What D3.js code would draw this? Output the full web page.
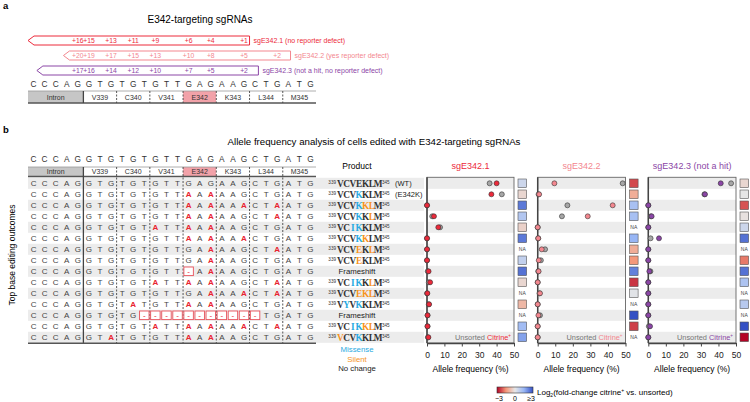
<!DOCTYPE html>
<html><head><meta charset="utf-8">
<script src="https://cdn.jsdelivr.net/npm/d3@7"></script>
<style>body{margin:0;background:#fff}svg{display:block;font-family:Arial,"Liberation Sans",sans-serif}</style>
</head><body><svg id="c" width="750" height="402"></svg>
<script>
// ---------------- data ----------------
const wtSeq = "CCCAG GTG TGT GTT GAG AAG CTG ATG";
const codons = ["Intron","V339","C340","V341","E342","K343","L344","M345"];
const guideNames = ["sgE342.1","sgE342.2","sgE342.3 (not a hit)"];
const guideLabels = ["sgE342.1 (no reporter defect)","sgE342.2 (yes reporter defect)","sgE342.3 (not a hit, no reporter defect)"];
const guideStart = [0, 3.2, 0.8];
const guideEnd = [20, 23.7, 20.8];
const guidePlusOne = [19, 23, 20];
const guideNumbers = [[16,15,13,11,9,6,4,1],[20,19,17,15,13,10,8,5,2],[17,16,14,12,10,7,5,2]];
const outcomes = [
"CCCAG GTG TGT GTT GAG AAG CTG ATG",
"CCCAG GTG TGT GTT AAA AAG CTG ATG",
"CCCAG GTG TGT GTT AAA AAA CTA ATG",
"CCCAG GTG TGT GTT AAA AAG CTA ATG",
"CCCAG GTG TGT ATT AAA AAG CTG ATG",
"CCCAG GTG TGT GTT AAA AAA CTG ATG",
"CCCAG GTG TGT GTT GAA AAG CTA ATG",
"CCCAG GTG TGT GTT GAA AAG CTG ATG",
"CCCAG GTG TGT GTT -AA AAG CTG ATG",
"CCCAG GTG TGT ATT AAA AAG CTA ATG",
"CCCAG GTG TGT GTT GAA AAA CTA ATG",
"CCCAG GTG TAT GTT AAA AAG CTG ATG",
"CCCAG GTG TG- --- --- --- -TG ATG",
"CCCAG GTG TGT ATT AAA AAA CTA ATG",
"CCCAG GTA TGT GTT AAA AAG CTG ATG"];
const products = ["VCVEKLM","VCVKKLM","VCVKKLM","VCVKKLM","VCIKKLM","VCVKKLM","VCVEKLM","VCVEKLM","Frameshift","VCIKKLM","VCVEKLM","VYVKKLM","Frameshift","VCIKKLM","VCVKKLM"];
const productChanges = ["-------","---m---","---mss-","---m-s-","--mm---","---ms--","---s-s-","---s---","","--mm-s-","---sss-","-m-m---","","--mmss-","s--m---"];
const productNotes = ["(WT)","(E342K)","","","","","","","","","","","","",""];
const unsorted1 = [36,43,0,3,7.5,0,0,0,0.4,1,0,1,0.3,0.3,0.5];
const citrine1  = [40,37,0,4,6.5,0,0,0,0.9,1.8,0.2,1.2,0.3,0.3,0.8];
const unsorted2 = [48.4,0.5,16.9,13.8,0,0.3,4.2,1.8,0.3,0,1,0,1.3,0,0];
const citrine2  = [9.5,0.8,42.7,28.5,0,0.3,2.3,0.6,0.5,0,1.3,0,0.4,0,0];
const unsorted3 = [47.2,32,0,1.5,0,1.3,0,0,1.2,0,0,0,0,0.3,0];
const citrine3  = [41.3,32.3,0,1.9,0,6.1,0,0,0.6,0,0,0,0,1,0];
const heat1 = [0.5,-0.3,2.4,1.0,-0.4,2.4,null,0.7,2.5,-0.3,null,-0.9,null,1.3,1.8];
const heat2 = [-2.3,-1.1,1.2,1.2,null,1.5,-1.1,-1.5,2.3,-2.5,0.1,null,3,-2.4,null];
const heat3 = [-0.3,0,-2.2,-0.1,0.5,2.5,null,-1.8,2.5,1.1,null,0.9,null,3,-3];
const xTicks = [0,10,20,30,40,50];
const colorbarTicks = ["\u22123","0","\u22653"];

// ---------------- drawing ----------------
const svg = d3.select("#c");
const guideColors = ["#ec2a3b","#f3878f","#8b46a6"];
const missenseC = "#29aae1", silentC = "#f7941d", editC = "#e8232f";
const heatColor = d3.scaleLinear().domain([-3,-1.5,0,1.5,3])
  .range(["#b40426","#f4987a","#e6e6e6","#98b6f5","#3450c4"]).clamp(true);

const wt = wtSeq.replace(/ /g,"");
const seqX = d3.scaleBand().domain(d3.range(wt.length)).range([28,316]);
const step = seqX.step();
const cx = i => seqX(i) + step/2;
const codonSpans = codons.map((c,k)=> k===0 ? [0,5] : [5+3*(k-1), 8+3*(k-1)]);

// panel labels
svg.append("text").attr("x",3).attr("y",9).attr("font-size",9.5).attr("font-weight","bold").text("a");
svg.append("text").attr("x",3).attr("y",133).attr("font-size",9.5).attr("font-weight","bold").text("b");
svg.append("text").attr("x",200).attr("y",23).attr("text-anchor","middle").attr("font-size",10).text("E342-targeting sgRNAs");

// guides
guideNames.forEach((g,gi)=>{
  const y0 = 36 + 15*gi, h = 9, col = guideColors[gi];
  const xl = seqX(0) + guideStart[gi]*step, xr = seqX(0) + guideEnd[gi]*step;
  svg.append("polygon").attr("points",[[xl,y0+h/2],[xl+6,y0],[xr,y0],[xr,y0+h],[xl+6,y0+h]].map(p=>p.join(",")).join(" "))
    .attr("fill","#fff").attr("stroke",col).attr("stroke-width",1);
  guideNumbers[gi].forEach(n=>{
    svg.append("text").attr("x",cx(guidePlusOne[gi]-(n-1))).attr("y",y0+7).attr("text-anchor","middle")
      .attr("font-size",6.8).attr("fill",col).text("+"+n);
  });
  svg.append("text").attr("x",xr+4).attr("y",y0+7).attr("font-size",7).attr("fill",col).text(guideLabels[gi]);
});

function drawHeader(ySeq, y0, y1, yBottom){
  wt.split("").forEach((ch,i)=>{
    svg.append("text").attr("x",cx(i)).attr("y",ySeq).attr("text-anchor","middle")
      .attr("font-size",8.3).attr("fill","#333").text(ch);
  });
  codons.forEach((c,k)=>{
    const [s,e] = codonSpans[k];
    const fill = k===0 ? "#c6c6c6" : (c==="E342" ? "#f2a2a9" : "#fff");
    svg.append("rect").attr("x",seqX(s)).attr("y",y0).attr("width",(e-s)*step).attr("height",y1-y0).attr("fill",fill);
    svg.append("text").attr("x",seqX(s)+(e-s)*step/2).attr("y",y1-2.8).attr("text-anchor","middle")
      .attr("font-size",7).attr("fill","#333").text(c);
  });
  svg.append("line").attr("x1",seqX(0)).attr("x2",seqX(0)+wt.length*step).attr("y1",y0).attr("y2",y0).attr("stroke","#999").attr("stroke-width",0.8);
  svg.append("line").attr("x1",seqX(0)).attr("x2",seqX(0)+wt.length*step).attr("y1",y1).attr("y2",y1).attr("stroke","#555").attr("stroke-width",1.4);
  codonSpans.slice(1).forEach(([s],k)=>{
    svg.append("line").attr("x1",seqX(s)).attr("x2",seqX(s)).attr("y1",y0).attr("y2",yBottom)
      .attr("stroke","#444").attr("stroke-width",k===0?1.3:0.9).attr("stroke-dasharray",k===0?null:"2,1.5");
  });
}
drawHeader(87, 91, 103, 103);

// panel b title
svg.append("text").attr("x",374).attr("y",145).attr("text-anchor","middle").attr("font-size",9.7).text("Allele frequency analysis of cells edited with E342-targeting sgRNAs");

const rowY = d3.scaleBand().domain(d3.range(outcomes.length)).range([177.8,342.8]);
const rh = rowY.step();
const rc = i => rowY(i) + rh/2;

// bands in table area
outcomes.forEach((o,i)=>{ if(i%2===0) svg.append("rect").attr("x",28).attr("y",rowY(i)).attr("width",396).attr("height",rh).attr("fill","#ececec"); });

drawHeader(161.5, 167, 176.5, 343);

// table rows
outcomes.forEach((o,r)=>{
  const s = o.replace(/ /g,"");
  s.split("").forEach((ch,i)=>{
    const y = rc(r);
    if(ch==="-"){
      svg.append("rect").attr("x",seqX(i)+0.8).attr("y",y-4.3).attr("width",step-1.6).attr("height",8.6)
        .attr("fill","#fff").attr("stroke","#e8505a").attr("stroke-width",0.9);
      svg.append("text").attr("x",cx(i)).attr("y",y+3).attr("text-anchor","middle").attr("font-size",8).attr("fill",editC).text("-");
    } else {
      const ed = ch !== wt[i];
      svg.append("text").attr("x",cx(i)).attr("y",y+3).attr("text-anchor","middle").attr("font-size",8)
        .attr("font-weight",ed?"bold":null).attr("fill",ed?editC:"#444").text(ch);
    }
  });
});
svg.append("line").attr("x1",28).attr("x2",316).attr("y1",343.3).attr("y2",343.3).attr("stroke","#555").attr("stroke-width",1.5);

// y label
svg.append("text").attr("transform","translate(15,255) rotate(-90)").attr("text-anchor","middle").attr("font-size",8.5).text("Top base editing outcomes");

// Products
svg.append("text").attr("x",357).attr("y",169).attr("text-anchor","middle").attr("font-size",8.5).text("Product");
products.forEach((p,r)=>{
  const y = rc(r)+3.3;
  if(p==="Frameshift"){
    svg.append("text").attr("x",357).attr("y",y-0.3).attr("text-anchor","middle").attr("font-size",7.8).attr("fill","#222").text(p);
    return;
  }
  svg.append("text").attr("x",336).attr("y",y-3).attr("text-anchor","end").attr("font-size",4.6).attr("fill","#333").text("339");
  p.split("").forEach((ch,k)=>{
    const m = productChanges[r][k];
    svg.append("text").attr("x",340.3+k*6.3).attr("y",y).attr("text-anchor","middle")
      .attr("font-family","'Liberation Serif','DejaVu Serif',serif").attr("font-weight","bold").attr("font-size",9.3)
      .attr("fill", m==="m"?missenseC:(m==="s"?silentC:"#333")).text(ch);
  });
  svg.append("text").attr("x",382).attr("y",y-3).attr("font-size",4.6).attr("fill","#333").text("345");
  if(productNotes[r]) svg.append("text").attr("x",395).attr("y",y-0.5).attr("font-size",7.5).attr("fill","#222").text(productNotes[r]);
});
svg.append("text").attr("x",357).attr("y",352).attr("text-anchor","middle").attr("font-size",7.8).attr("fill",missenseC).text("Missense");
svg.append("text").attr("x",357).attr("y",361.5).attr("text-anchor","middle").attr("font-size",7.8).attr("fill",silentC).text("Silent");
svg.append("text").attr("x",357).attr("y",371).attr("text-anchor","middle").attr("font-size",7.8).attr("fill","#222").text("No change");

// plots
const panels = [
  {range:[427,514], u:unsorted1, c:citrine1, h:heat1},
  {range:[537.7,625.5], u:unsorted2, c:citrine2, h:heat2},
  {range:[648.3,736], u:unsorted3, c:citrine3, h:heat3}
];
const plotTop = 177.3, plotBot = 343;
panels.forEach((P,pi)=>{
  const x = d3.scaleLinear().domain([0,50]).range(P.range);
  const col = guideColors[pi];
  const g = svg.append("g");
  outcomes.forEach((o,i)=>{ if(i%2===0) g.append("rect").attr("x",x(0)).attr("y",rowY(i)).attr("width",x(50)-x(0)).attr("height",rh).attr("fill","#ececec"); });
  g.append("rect").attr("x",x(0)).attr("y",plotTop).attr("width",x(50)-x(0)).attr("height",plotBot-plotTop).attr("fill","none").attr("stroke","#666").attr("stroke-width",0.9);
  g.append("line").attr("x1",x(0)).attr("x2",x(0)).attr("y1",plotTop).attr("y2",plotBot).attr("stroke","#444").attr("stroke-width",1.5);
  const ax = g.append("g").attr("transform",`translate(0,${plotBot})`)
    .call(d3.axisBottom(x).tickValues(xTicks).tickSize(3.5).tickSizeOuter(0).tickPadding(5.5));
  ax.select(".domain").attr("stroke","#444").attr("stroke-width",1.3);
  ax.selectAll(".tick line").attr("stroke","#444").attr("stroke-width",1);
  ax.selectAll("text").attr("font-size",8.5).attr("fill","#222").attr("font-family","Arial,'Liberation Sans',sans-serif");
  g.append("text").attr("x",(x(0)+x(50))/2).attr("y",372).attr("text-anchor","middle").attr("font-size",8.5).text("Allele frequency (%)");
  g.append("text").attr("x",(x(0)+x(50))/2).attr("y",169).attr("text-anchor","middle").attr("font-size",9).attr("fill",col).text(guideNames[pi]);
  // legend
  const lt = g.append("text").attr("x",x(50)-3).attr("y",rc(14)+2.8).attr("text-anchor","end").attr("font-size",7.4);
  lt.append("tspan").attr("fill","#777").text("Unsorted ");
  lt.append("tspan").attr("fill",col).text("Citrine");
  lt.append("tspan").attr("fill",col).attr("font-size",4.5).attr("dy",-3).text("+");
  // dots
  P.u.forEach((v,i)=>{
    g.append("circle").attr("cx",x(v)).attr("cy",rc(i)).attr("r",2.5).attr("fill","#a6a6a6").attr("stroke","#333").attr("stroke-width",0.6);
  });
  P.c.forEach((v,i)=>{
    g.append("circle").attr("cx",x(v)).attr("cy",rc(i)).attr("r",2.5).attr("fill",col).attr("stroke","#333").attr("stroke-width",0.6);
  });
  // heat squares
  const hx = x(50)+4;
  P.h.forEach((v,i)=>{
    if(v===null){
      g.append("text").attr("x",hx+4.3).attr("y",rc(i)+1.8).attr("text-anchor","middle").attr("font-size",5).attr("fill","#444").text("NA");
    } else {
      g.append("rect").attr("x",hx).attr("y",rc(i)-4.3).attr("width",8.6).attr("height",8.6)
        .attr("fill",heatColor(v)).attr("stroke","#555").attr("stroke-width",0.6);
    }
  });
});

// colorbar
const defs = svg.append("defs");
const grad = defs.append("linearGradient").attr("id","cb");
[-3,-1.5,0,1.5,3].forEach((v,k)=> grad.append("stop").attr("offset",(k*25)+"%").attr("stop-color",heatColor(v)));
svg.append("rect").attr("x",497).attr("y",387).attr("width",36).attr("height",6).attr("fill","url(#cb)").attr("stroke","#333").attr("stroke-width",0.6);
const cbx = d3.scaleLinear().domain([0,2]).range([499,531]);
colorbarTicks.forEach((t,k)=> svg.append("text").attr("x",cbx(k)).attr("y",401).attr("text-anchor","middle").attr("font-size",7).text(t));
const cbt = svg.append("text").attr("x",537).attr("y",395).attr("font-size",8);
cbt.append("tspan").text("Log");
cbt.append("tspan").attr("font-size",5).attr("dy",2).text("2");
cbt.append("tspan").attr("dy",-2).text("(fold-change citrine");
cbt.append("tspan").attr("font-size",5).attr("dy",-3).text("+");
cbt.append("tspan").attr("dy",3).text(" vs. unsorted)");
</script></body></html>
